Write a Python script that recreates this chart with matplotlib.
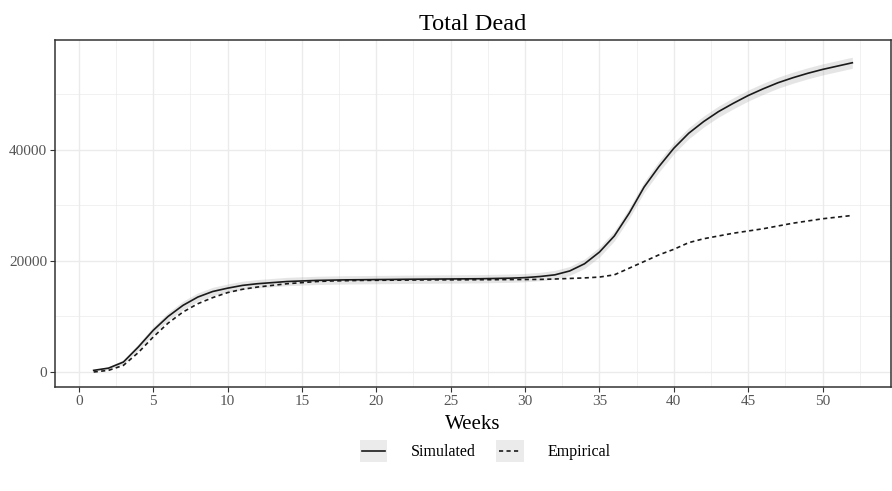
import matplotlib
matplotlib.use("Agg")
import matplotlib.pyplot as plt
from matplotlib.patches import Rectangle
from matplotlib.lines import Line2D
from matplotlib.legend_handler import HandlerBase
import numpy as np

weeks = list(range(1, 53))
simulated = [300, 700, 1800, 4500, 7500, 10000, 12000, 13500, 14500, 15100,
             15600, 15900, 16100, 16300, 16400, 16500, 16550, 16600, 16620, 16650,
             16670, 16700, 16720, 16740, 16760, 16780, 16800, 16850, 16900, 17000,
             17200, 17500, 18200, 19500, 21600, 24500, 28600, 33300, 37000, 40300,
             43000, 45100, 46900, 48400, 49800, 51000, 52100, 53000, 53800, 54500,
             55100, 55700]
band = [150, 250, 400, 550, 650, 700, 750, 750, 750, 750,
        750, 750, 750, 750, 750, 750, 750, 750, 750, 750,
        750, 750, 750, 750, 750, 750, 750, 750, 750, 750,
        750, 800, 800, 850, 900, 900, 950, 950, 1000, 1000,
        1000, 1000, 1000, 1000, 1000, 1000, 1000, 1000, 1000, 1000,
        1000, 1000]
empirical = [0, 300, 1200, 3500, 6300, 8800, 10800, 12300, 13400, 14300,
             14900, 15300, 15600, 15900, 16100, 16300, 16400, 16450, 16500, 16520,
             16540, 16560, 16580, 16600, 16600, 16610, 16620, 16630, 16650, 16660,
             16680, 16750, 16850, 16950, 17100, 17500, 18700, 19900, 21100, 22100,
             23300, 24000, 24500, 25000, 25400, 25800, 26300, 26800, 27200, 27600,
             27900, 28200]
x_ticks = list(range(0, 55, 5))
y_ticks = [0, 20000, 40000]
title = "Total Dead"
xlabel = "Weeks"
legend_labels = ["Simulated", "Empirical"]

plt.rcParams['font.family'] = ['Liberation Serif', 'DejaVu Serif']

LINE_C = '#1a1a1a'
DASH = (0, (2.5, 2))


class KeyHandler(HandlerBase):
    def __init__(self, ls):
        super().__init__()
        self.ls = ls

    def create_artists(self, legend, orig_handle, xdescent, ydescent,
                       width, height, fontsize, trans):
        bg = Rectangle((-xdescent, -ydescent), width, height,
                       facecolor='#EBEBEB', edgecolor='none', transform=trans)
        yc = -ydescent + height / 2
        ln = Line2D([-xdescent + 0.1 * width, -xdescent + 0.9 * width], [yc, yc],
                    color=LINE_C, lw=1.2, linestyle=self.ls, transform=trans)
        return [bg, ln]


fig = plt.figure(figsize=(8.92, 4.91), dpi=100)
ax = fig.add_axes([55/892, 1-387/491, (891-55)/892, (387-40)/491])

w = np.array(weeks)
s = np.array(simulated)
b = np.array(band)
ax.fill_between(w, s - b, s + b, color='#9a9a9a', alpha=0.25, linewidth=0, zorder=2)
ax.plot(w, s, color=LINE_C, lw=1.2, zorder=3)
ax.plot(w, empirical, color=LINE_C, lw=1.2, linestyle=DASH, zorder=3)

ax.set_xlim(-1.6, 54.6)
ax.set_ylim(-2700, 59800)
ax.set_xticks(x_ticks)
ax.set_xticks([t + 2.5 for t in x_ticks[:-1]] + [52.5], minor=True)
ax.set_yticks(y_ticks)
ax.set_yticks([10000, 30000, 50000], minor=True)
ax.set_yticklabels([str(v) for v in y_ticks])
ax.grid(which='major', color='#EBEBEB', lw=1.0, zorder=0)
ax.grid(which='minor', color='#EBEBEB', lw=0.5, zorder=0)
ax.set_axisbelow(True)
ax.tick_params(which='minor', length=0)
ax.tick_params(which='major', length=3.5, width=0.8, color='#333333',
               labelsize=11, labelcolor='#555555', pad=2)
for sp in ax.spines.values():
    sp.set_color('#333333')
    sp.set_linewidth(1.1)

ax.set_title(title, fontsize=17.5, pad=7)
ax.set_xlabel(xlabel, fontsize=15, labelpad=5)

h1 = Line2D([], [], color=LINE_C)
h2 = Line2D([], [], color=LINE_C, linestyle=DASH)
fig.legend([h1, h2], legend_labels,
           handler_map={h1: KeyHandler('-'), h2: KeyHandler(DASH)},
           loc='center', bbox_to_anchor=(485/892, 1-451/491), ncol=2,
           frameon=False, fontsize=11.5, handlelength=1.75, handleheight=1.65,
           handletextpad=1.45, columnspacing=1.3)

fig.savefig("out.png", dpi=100)
